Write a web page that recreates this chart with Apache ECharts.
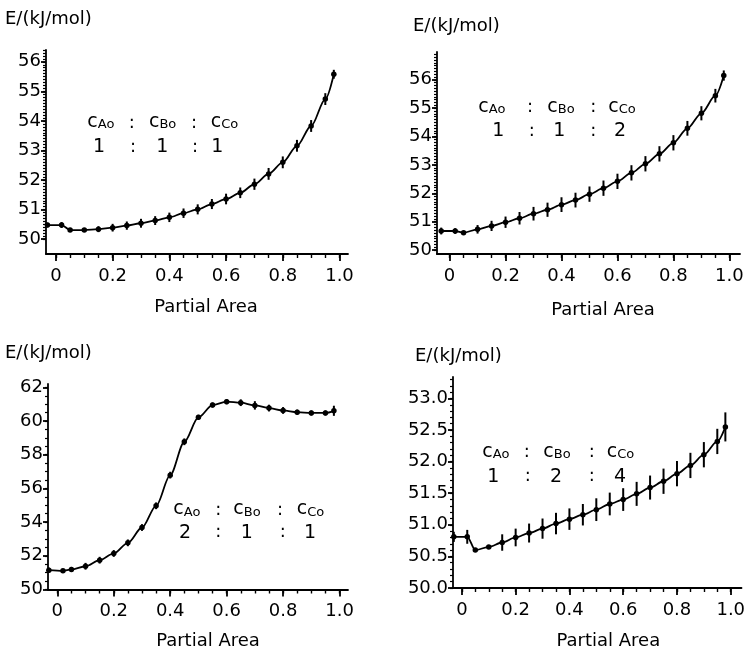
<!DOCTYPE html>
<html>
<head>
<meta charset="utf-8">
<script src="https://cdn.jsdelivr.net/npm/echarts@6/dist/echarts.min.js"></script>
<style>
  html, body { margin: 0; padding: 0; background: #fff; }
  #chart { width: 750px; height: 653px; }
</style>
</head>
<body>
<div id="chart"></div>
<script>
// partial area values (same for all four panels)
const areas = [-0.03, 0.02, 0.05, 0.1, 0.15, 0.2, 0.25, 0.3, 0.35, 0.4, 0.45, 0.5,
  0.55, 0.6, 0.65, 0.7, 0.75, 0.8, 0.85, 0.9, 0.95, 0.98];

// E values, kJ/mol, and error half-widths
const energy1 = [50.48, 50.48, 50.31, 50.31, 50.34, 50.39, 50.46, 50.54, 50.63, 50.74, 50.88,
  51.01, 51.19, 51.36, 51.57, 51.86, 52.21, 52.6, 53.16, 53.83, 54.74, 55.58];
const error1 = [0.08, 0.1, 0.05, 0.05, 0.1, 0.13, 0.14, 0.15, 0.15, 0.16, 0.16,
  0.17, 0.17, 0.18, 0.18, 0.19, 0.2, 0.2, 0.2, 0.2, 0.2, 0.15];

const energy2 = [50.67, 50.67, 50.61, 50.73, 50.85, 50.98, 51.12, 51.28, 51.42, 51.6, 51.76,
  51.97, 52.18, 52.42, 52.72, 53.04, 53.39, 53.78, 54.29, 54.82, 55.44, 56.15];
const error2 = [0.12, 0.1, 0.05, 0.15, 0.18, 0.2, 0.22, 0.24, 0.25, 0.26, 0.26,
  0.27, 0.27, 0.27, 0.27, 0.27, 0.27, 0.27, 0.26, 0.25, 0.24, 0.18];

const energy3 = [51.15, 51.11, 51.19, 51.38, 51.74, 52.14, 52.77, 53.68, 54.97, 56.79, 58.77,
  60.22, 60.95, 61.15, 61.09, 60.93, 60.77, 60.63, 60.53, 60.48, 60.48, 60.61];
const error3 = [0.15, 0.1, 0.15, 0.2, 0.2, 0.2, 0.2, 0.2, 0.2, 0.2, 0.2,
  0.15, 0.15, 0.15, 0.2, 0.25, 0.2, 0.2, 0.15, 0.15, 0.15, 0.3];

const energy4 = [50.81, 50.81, 50.6, 50.65, 50.72, 50.8, 50.87, 50.94, 51.02, 51.09, 51.16,
  51.24, 51.33, 51.4, 51.49, 51.59, 51.69, 51.81, 51.94, 52.11, 52.32, 52.55];
const error4 = [0.08, 0.11, 0.02, 0.02, 0.13, 0.14, 0.15, 0.16, 0.17, 0.17, 0.17,
  0.18, 0.18, 0.18, 0.19, 0.19, 0.2, 0.2, 0.2, 0.2, 0.2, 0.23];

// tick labels
const xTicks = [0, 0.2, 0.4, 0.6, 0.8, 1.0];
const yTicks1 = [50, 51, 52, 53, 54, 55, 56];
const yTicks2 = [50, 51, 52, 53, 54, 55, 56];
const yTicks3 = [50, 52, 54, 56, 58, 60, 62];
const yTicks4 = [50.0, 50.5, 51.0, 51.5, 52.0, 52.5, 53.0];

// concentration ratios cAo : cBo : cCo
const ratios = [['1', '1', '1'], ['1', '1', '2'], ['2', '1', '1'], ['1', '2', '4']];

const FONT = 'DejaVu Sans';

function steps(from, to, step) {
  const out = [];
  for (let v = from; v <= to + 1e-9; v += step) out.push(+v.toFixed(4));
  return out;
}

// layout of each panel (pixels) and axis extents
const panels = [
  { energy: energy1, error: error1, yTicks: yTicks1, yDigits: 0, yMinor: 0.1,
    grid: { left: 46, top: 50, width: 302, height: 204 },
    x: [-0.035, 1.03], y: [49.5, 56.4],
    title: [5, 19], xname: [206, 307],
    row1: [122, 87.3, 131.7, 149, 194, 210.7], row2: [147, 99, 133, 162.3, 195, 217.3] },
  { energy: energy2, error: error2, yTicks: yTicks2, yDigits: 0, yMinor: 0.1,
    grid: { left: 437, top: 52, width: 303, height: 202 },
    x: [-0.045, 1.038], y: [49.86, 56.98],
    title: [413, 26.7], xname: [603, 310],
    row1: [106.7, 478.3, 530, 547.3, 593.3, 608.3], row2: [131, 498.3, 531.7, 559.3, 593.3, 620] },
  { energy: energy3, error: error3, yTicks: yTicks3, yDigits: 0, yMinor: 0.5,
    grid: { left: 48, top: 384, width: 300, height: 205.5 },
    x: [-0.033, 1.03], y: [50, 62.2],
    title: [5, 353], xname: [208, 641.7],
    row1: [509.3, 173.3, 218.3, 233.3, 280, 296.7], row2: [532.7, 185, 218.3, 246.7, 282.7, 310] },
  { energy: energy4, error: error4, yTicks: yTicks4, yDigits: 1, yMinor: 0.1,
    grid: { left: 453, top: 377, width: 288.5, height: 211 },
    x: [-0.033, 1.04], y: [50, 53.34],
    title: [415, 356.7], xname: [608.3, 641.7],
    row1: [451.7, 482.3, 526.7, 543.3, 591.7, 606.7], row2: [476.7, 493.3, 527.7, 556, 591.7, 620] }
];

const grid = [], xAxis = [], yAxis = [], series = [], graphic = [];

const lineBlack = { color: '#000', width: 1.8 };
const cRich = {
  c: { fontFamily: FONT, fontSize: 19, color: '#000', verticalAlign: 'bottom' },
  s: { fontFamily: FONT, fontSize: 13, color: '#000', verticalAlign: 'bottom' }
};

panels.forEach((p, i) => {
  grid.push(Object.assign({ containLabel: false }, p.grid));

  // main x axis with labels
  xAxis.push({
    type: 'value', gridIndex: i, min: p.x[0], max: p.x[1], position: 'bottom',
    splitLine: { show: false },
    axisLine: { show: true, onZero: false, lineStyle: lineBlack },
    axisTick: { show: true, length: 7, lineStyle: lineBlack, customValues: xTicks },
    axisLabel: {
      color: '#000', fontFamily: FONT, fontSize: 18, margin: 13,
      customValues: xTicks,
      formatter: v => (v === 0 ? '0' : v.toFixed(1))
    }
  });
  // minor x ticks
  xAxis.push({
    type: 'value', gridIndex: i, min: p.x[0], max: p.x[1], position: 'bottom',
    splitLine: { show: false },
    axisLine: { show: false, onZero: false },
    axisLabel: { show: false },
    axisTick: { show: true, length: 4, lineStyle: { color: '#000', width: 1.4 },
      customValues: steps(0, 1, 0.05) }
  });

  const yMinorVals = steps(p.yTicks[0], p.y[1], p.yMinor);
  yAxis.push({
    type: 'value', gridIndex: i, min: p.y[0], max: p.y[1], position: 'left',
    splitLine: { show: false },
    axisLine: { show: true, onZero: false, lineStyle: lineBlack },
    axisTick: { show: true, length: 5, lineStyle: lineBlack, customValues: p.yTicks },
    axisLabel: {
      color: '#000', fontFamily: FONT, fontSize: 18, margin: 5,
      customValues: p.yTicks,
      formatter: v => v.toFixed(p.yDigits)
    }
  });
  yAxis.push({
    type: 'value', gridIndex: i, min: p.y[0], max: p.y[1], position: 'left',
    splitLine: { show: false },
    axisLine: { show: false, onZero: false },
    axisLabel: { show: false },
    axisTick: { show: true, length: 3, lineStyle: { color: '#000', width: 1.2 },
      customValues: yMinorVals }
  });

  // curve with points
  series.push({
    type: 'line', xAxisIndex: 2 * i, yAxisIndex: 2 * i,
    data: areas.map((a, k) => [a, p.energy[k]]),
    smooth: 0.3, smoothMonotone: 'x',
    symbol: 'circle', symbolSize: 5.5,
    lineStyle: lineBlack,
    itemStyle: { color: '#000' },
    animation: false, silent: true
  });
  // error bars
  series.push({
    type: 'custom', xAxisIndex: 2 * i, yAxisIndex: 2 * i,
    data: areas.map((a, k) => [a, p.energy[k] - p.error[k], p.energy[k] + p.error[k]]),
    encode: { x: 0, y: [1, 2] },
    renderItem: function (params, api) {
      const lo = api.coord([api.value(0), api.value(1)]);
      const hi = api.coord([api.value(0), api.value(2)]);
      return {
        type: 'line',
        shape: { x1: lo[0], y1: lo[1], x2: hi[0], y2: hi[1] },
        style: { stroke: '#000', lineWidth: 2 }
      };
    },
    animation: false, silent: true
  });

  // axis titles
  graphic.push({
    type: 'text', x: p.title[0], y: p.title[1],
    style: { text: 'E/(kJ/mol)', fontFamily: FONT, fontSize: 18, fill: '#000',
      align: 'left', verticalAlign: 'middle' }
  });
  graphic.push({
    type: 'text', x: p.xname[0], y: p.xname[1],
    style: { text: 'Partial Area', fontFamily: FONT, fontSize: 18, fill: '#000',
      align: 'center', verticalAlign: 'middle' }
  });

  // ratio annotation
  const r1 = p.row1, r2 = p.row2;
  ['A', 'B', 'C'].forEach((sp, j) => {
    graphic.push({
      type: 'text', x: r1[1 + 2 * j], y: r1[0],
      style: { text: '{c|c}{s|' + sp + 'o}', rich: cRich, align: 'left', verticalAlign: 'middle' }
    });
    graphic.push({
      type: 'text', x: r2[1 + 2 * j], y: r2[0],
      style: { text: ratios[i][j], fontFamily: FONT, fontSize: 19, fill: '#000',
        align: 'center', verticalAlign: 'middle' }
    });
  });
  [2, 4].forEach(k => {
    graphic.push({
      type: 'text', x: r1[k], y: r1[0] + 1,
      style: { text: ':', fontFamily: FONT, fontSize: 18, fill: '#000',
        align: 'center', verticalAlign: 'middle' }
    });
    graphic.push({
      type: 'text', x: r2[k], y: r2[0],
      style: { text: ':', fontFamily: FONT, fontSize: 18, fill: '#000',
        align: 'center', verticalAlign: 'middle' }
    });
  });
});

const chart = echarts.init(document.getElementById('chart'), null, { renderer: 'canvas' });
chart.setOption({
  backgroundColor: '#fff',
  animation: false,
  grid, xAxis, yAxis, series, graphic
});
</script>
</body>
</html>
